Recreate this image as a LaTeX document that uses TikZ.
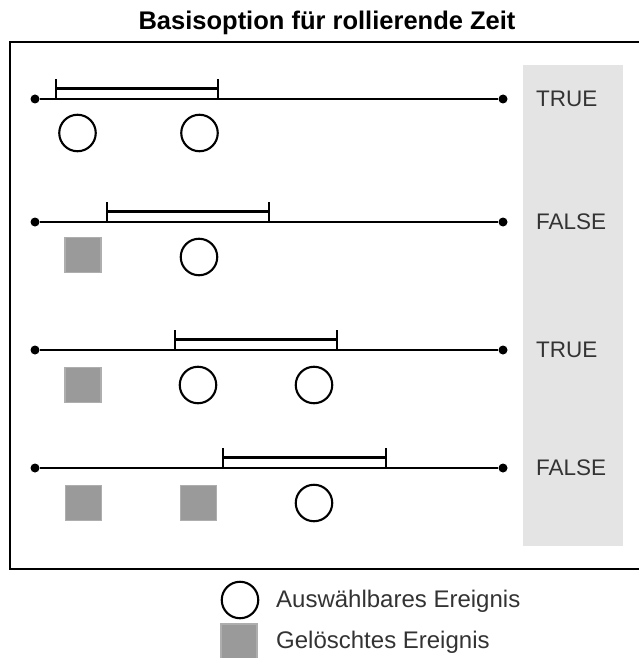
\documentclass[tikz,border=0pt]{standalone}
\usepackage{fontspec}
\usetikzlibrary{calc}
\setmainfont{Liberation Sans}
\definecolor{colgray}{HTML}{E4E4E4}
\definecolor{delgray}{HTML}{9A9A9A}
\definecolor{txtgray}{HTML}{333333}
\tikzset{
  px/.style={x=1pt,y=-1pt},
  tline/.style={line width=2.3pt},
  dotnode/.style={circle,fill=black,inner sep=0pt,minimum size=9pt},
  evt/.style={circle,draw=black,line width=2.1pt,minimum size=36.5pt,inner sep=0pt},
  del/.style={rectangle,fill=delgray,draw=delgray!80!white,line width=1.2pt,minimum width=36pt,minimum height=35pt,inner sep=0pt},
  brk/.style={line width=2.1pt},
  lbl/.style={anchor=west,inner sep=0pt,text=txtgray,font=\fontsize{22.5}{26}\selectfont},
  legtxt/.style={anchor=base west,inner sep=0pt,text=txtgray,font=\fontsize{24}{28}\selectfont},
}
\begin{document}
\begin{tikzpicture}[px]
\useasboundingbox (0,0) rectangle (639,658);
% title
\node[anchor=base,inner sep=0pt,font=\bfseries\fontsize{25.5}{30}\selectfont] (title) at (327,30) {Basisoption für rollierende Zeit};
% frame
\draw[line width=2.5pt] (650,42) -- (10,42) -- (10,569) -- (650,569);
% gray column
\fill[colgray] (523,65) rectangle (623,546);
% ---- rows ----
\foreach \i/\y/\a/\b in {1/99/56/218,2/222/107/269,3/350/175/337,4/468/223/386}{
  \node[dotnode] (l\i) at (35,\y) {};
  \node[dotnode] (r\i) at (503,\y) {};
  \draw[tline] (l\i) -- (r\i);
  \coordinate (ba\i) at (\a,\y);
  \coordinate (bb\i) at (\b,\y);
  \draw[brk] (ba\i) -- ++(0,-20) (bb\i) -- ++(0,-20)
             ($(ba\i)+(0,-10.5)$) -- ($(bb\i)+(0,-10.5)$);
}
% row 1
\node[evt] (e11) at (77.5,133) {};
\node[evt] (e12) at (199.5,133) {};
\node[lbl] (t1) at (536,99) {TRUE};
% row 2
\node[del] (d21) at (83,255) {};
\node[evt] (e21) at (199,257) {};
\node[lbl] (t2) at (536,222) {FALSE};
% row 3
\node[del] (d31) at (83,385) {};
\node[evt] (e31) at (198,385) {};
\node[evt] (e32) at (314,385) {};
\node[lbl] (t3) at (536,350) {TRUE};
% row 4
\node[del] (d41) at (83.5,503) {};
\node[del] (d42) at (198.5,503) {};
\node[evt] (e41) at (314,503) {};
\node[lbl] (t4) at (536,468) {FALSE};
% legend
\node[evt] (lege) at (240,600) {};
\node[legtxt] (legt1) at (276,607) {Auswählbares Ereignis};
\node[del,minimum height=38pt] (legd) at (239,643) {};
\node[legtxt] (legt2) at (276,648) {Gelöschtes Ereignis};
\end{tikzpicture}
\end{document}
